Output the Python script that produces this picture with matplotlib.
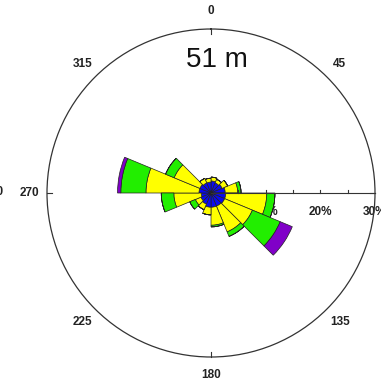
import numpy as np
import matplotlib
matplotlib.use("Agg")
import matplotlib.pyplot as plt

# ---- data ----
sector_start_deg = [0, 22.5, 45, 67.5, 90, 112.5, 135, 157.5,
                    180, 202.5, 225, 247.5, 270, 292.5, 315, 337.5]
blue   = [2.2, 2.0, 2.2, 2.6, 2.7, 2.7, 2.6, 2.6, 2.6, 2.2, 2.0, 1.8, 2.2, 2.2, 2.0, 2.0]
yellow = [0.7, 0.7, 1.1, 2.3, 7.5, 5.5, 5.1, 3.3, 1.4, 1.1, 1.1, 5.0, 9.7, 5.1, 0.9, 0.7]
green  = [0.0, 0.0, 0.0, 0.6, 1.5, 5.5, 0.9, 0.3, 0.0, 0.0, 1.1, 2.3, 4.6, 1.7, 0.0, 0.0]
purple = [0.0, 0.0, 0.0, 0.0, 0.0, 2.4, 0.0, 0.0, 0.0, 0.0, 0.0, 0.0, 0.6, 0.0, 0.0, 0.0]
series = [blue, yellow, green, purple]
series_colors = ["#0a0af0", "#ffff00", "#22ee00", "#8000c8"]

dir_ticks = [0, 45, 135, 180, 225, 270, 315]
dir_labels = ["0", "45", "135", "180", "225", "270", "315"]
r_ticks = [0, 10, 20, 30]
r_labels = ["0%", "10%", "20%", "30%"]
title = "51 m"

W, H = 381, 384
fig = plt.figure(figsize=(W / 100, H / 100), dpi=100)
cx, cy, R = 211, 193, 164
ax = fig.add_axes([(cx - R) / W, (H - cy - R) / H, 2 * R / W, 2 * R / H],
                  projection="polar")
ax.set_theta_zero_location("N")
ax.set_theta_direction(-1)
ax.set_ylim(0, 30)
ax.grid(False)
ax.set_xticks([])
ax.set_yticks([])
ax.spines["polar"].set_color("#333333")
ax.spines["polar"].set_linewidth(0.9)

theta = np.deg2rad(sector_start_deg)
width = np.deg2rad(22.5)
bottom = np.zeros(len(theta))
for vals, col in zip(series, series_colors):
    v = np.array(vals)
    ax.bar(theta, v, width=width, bottom=bottom, align="edge",
           color=col, edgecolor="#222222", linewidth=0.5, zorder=3)
    bottom += v

# radial axis line along 90 deg
ax.plot([np.pi / 2, np.pi / 2], [0, 30], color="#333333", lw=0.8, zorder=4,
        clip_on=False)
for r in [5, 10, 15, 20, 25]:
    d = 0.55
    ax.plot([np.pi / 2, np.pi / 2 - np.arctan(d / r)], [r, np.hypot(r, d)],
            color="#333333", lw=0.8, zorder=4, clip_on=False)
for r, lab in zip(r_ticks, r_labels):
    ax.annotate(lab, xy=(np.pi / 2, r), xytext=(0, -14), textcoords="offset points",
                ha="center", va="center", fontsize=8.5, fontweight="bold",
                family="Liberation Sans", color="#222222", zorder=2,
                annotation_clip=False)

# cardinal ticks on the circle
for a in [0, 90, 180, 270]:
    ax.plot([np.deg2rad(a)] * 2, [29.0, 30], color="#333333", lw=0.8,
            clip_on=False, zorder=4)

for a, lab in zip(dir_ticks, dir_labels):
    ax.text(np.deg2rad(a), 33.3, lab, ha="center", va="center", fontsize=8.5,
            fontweight="bold", family="Liberation Sans", color="#222222",
            clip_on=False)

fig.text(216.5 / W, 1 - 60 / H, title, ha="center", va="center",
         fontsize=20, family="Liberation Sans", color="#111111")
fig.text(4 / W, 1 - 192 / H, "90", ha="right", va="center", fontsize=8.5,
         fontweight="bold", family="Liberation Sans", color="#222222")

fig.savefig("out.png", dpi=100)
